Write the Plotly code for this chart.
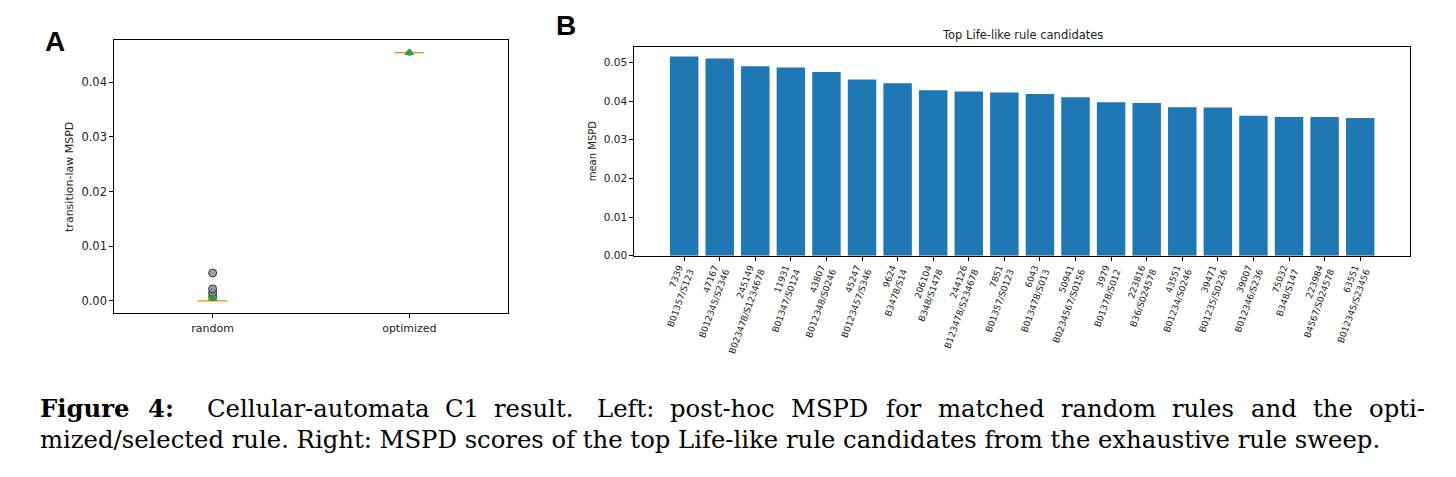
import numpy as np
import plotly.graph_objects as go

# ---------------- data ----------------
# Panel A: post-hoc transition-law MSPD
group_names = ["random", "optimized"]
random_values = [0.0, 0.0, 0.0, 0.0, 0.0, 0.0, 0.0, 0.0, 0.0, 0.0,
                 0.0, 0.0, 0.0, 0.0, 0.0, 0.0, 0.0008, 0.0015, 0.0022, 0.0051]
optimized_values = [0.0454]

# Panel B: top Life-like rule candidates
rule_ids = ["7339", "47167", "245149", "11931", "43807", "45247", "9624", "206104",
            "244126", "7851", "6043", "50941", "3979", "223816", "43551", "39471",
            "39007", "75032", "223984", "63551"]
rule_names = ["B01357/S123", "B012345/S2346", "B023478/S1234678", "B01347/S0124",
              "B012348/S0246", "B0123457/S346", "B3478/S14", "B348/S1478",
              "B123478/S234678", "B01357/S0123", "B013478/S013", "B0234567/S0156",
              "B01378/S012", "B36/S024578", "B01234/S0246", "B01235/S0236",
              "B012346/S236", "B348/S147", "B4567/S024578", "B012345/S23456"]
mean_mspd = [0.0515, 0.0510, 0.0490, 0.0487, 0.0475, 0.0456, 0.0446, 0.0428,
             0.0425, 0.0422, 0.0418, 0.0410, 0.0397, 0.0395, 0.0384, 0.0383,
             0.0362, 0.0359, 0.0359, 0.0356]

caption_line1 = ["Figure", "4:", "Cellular-automata", "C1", "result.", "Left:", "post-hoc",
                 "MSPD", "for", "matched", "random", "rules", "and", "the", "opti-"]
caption_line2 = ("mized/selected rule. Right: MSPD scores of the top Life-like rule "
                 "candidates from the exhaustive rule sweep.")

# ---------------- layout helpers ----------------
# the page body adds an 8px margin, so the figure is drawn offset by (8, 8)
OFF = 8
W, H = 1456 - OFF, 477 - OFF
def px(x):
    return (x - OFF) / W
def py(y):
    return 1 - (y - OFF) / H

BLUE = "#1f77b4"
ORANGE = "#ff7f0e"
GREEN = "#2ca02c"
FONT = "DejaVu Sans"
SERIF = "DejaVu Serif"
CAP_SIZE = 24.3

# approximate DejaVu Serif advance widths (em) used to justify caption line 1
REG_W = {"a": .596, "b": .640, "c": .560, "d": .640, "e": .592, "f": .370, "g": .640,
         "h": .644, "i": .320, "k": .610, "l": .320, "m": .948, "n": .644, "o": .602,
         "p": .640, "r": .478, "s": .513, "t": .402, "u": .644, "z": .525,
         "C": .715, "L": .637, "M": .995, "S": .685, "P": .733, "D": .830,
         "1": .636, "4": .636, ":": .337, ".": .318, "-": .338}
BOLD_W = {"F": .711, "i": .421, "g": .709, "u": .712, "r": .533, "e": .678,
          "4": .696, ":": .400}

def word_width(word, bold):
    table = BOLD_W if bold else REG_W
    return sum(table.get(ch, .6) for ch in word) * CAP_SIZE

LINE_LEFT, LINE_RIGHT = 38, 1423
widths1 = [word_width(w, i < 2) for i, w in enumerate(caption_line1)]
gap_weights = [1.0] * (len(caption_line1) - 1)
gap_weights[1] = 2.0   # wider space after "Figure 4:"
gap_weights[4] = 1.4   # sentence space after "result."
free = (LINE_RIGHT - LINE_LEFT) - sum(widths1)
unit_gap = free / sum(gap_weights)
line1_x = [LINE_LEFT]
for i in range(1, len(caption_line1)):
    line1_x.append(line1_x[-1] + widths1[i - 1] + unit_gap * gap_weights[i - 1])

fig = go.Figure()

# ---------------- panel A ----------------
fig.add_trace(go.Box(
    x0=1, y=random_values, width=0.15, boxpoints="outliers", jitter=0, pointpos=0,
    line=dict(color=ORANGE, width=1.2), fillcolor="rgba(0,0,0,0)", whiskerwidth=1,
    marker=dict(color="rgba(140,145,155,0.85)", size=8, line=dict(color="#333333", width=1)),
    xaxis="x", yaxis="y", showlegend=False, hoverinfo="skip"))
fig.add_trace(go.Box(
    x0=2, y=optimized_values, width=0.15, boxpoints=False,
    line=dict(color=ORANGE, width=1.2), fillcolor="rgba(0,0,0,0)",
    xaxis="x", yaxis="y", showlegend=False, hoverinfo="skip"))
fig.add_trace(go.Scatter(
    x=[2] * len(optimized_values), y=optimized_values, mode="markers",
    marker=dict(color=BLUE, size=6), xaxis="x", yaxis="y", showlegend=False))
fig.add_trace(go.Scatter(
    x=[1, 2], y=[float(np.mean(random_values)), float(np.mean(optimized_values))],
    mode="markers", marker=dict(symbol="triangle-up", color=GREEN, size=9),
    xaxis="x", yaxis="y", showlegend=False))

# ---------------- panel B ----------------
tick_text = [f"{i}<br>{r}" for i, r in zip(rule_ids, rule_names)]
fig.add_trace(go.Bar(
    x=tick_text, y=mean_mspd, marker=dict(color=BLUE, line=dict(width=0)),
    xaxis="x2", yaxis="y2", showlegend=False))

axis_common = dict(showline=True, mirror=True, linecolor="black", linewidth=1,
                   ticks="outside", ticklen=4, tickcolor="black", showgrid=False,
                   zeroline=False)

fig.update_layout(
    width=W, height=H, margin=dict(l=0, r=0, t=0, b=0),
    paper_bgcolor="white", plot_bgcolor="white", bargap=0.2,
    xaxis=dict(domain=[px(114.3), px(507.7)], range=[0.5, 2.5],
               tickvals=[1, 2], ticktext=group_names, anchor="y",
               tickfont=dict(family=FONT, size=11, color="#222"), **axis_common),
    yaxis=dict(domain=[py(317.3), py(40.7)], range=[-0.00227, 0.04767],
               tickvals=[0, 0.01, 0.02, 0.03, 0.04], tickformat=".2f", anchor="x",
               tickfont=dict(family=FONT, size=11.5, color="#222"),
               title=dict(text="transition-law MSPD", standoff=5,
                          font=dict(family=FONT, size=11, color="#222")),
               **axis_common),
    xaxis2=dict(domain=[px(634.3), px(1410)], range=[-1.4, 20.4], type="category",
                anchor="y2", tickangle=-70,
                tickfont=dict(family=FONT, size=9, color="#222"), **axis_common),
    yaxis2=dict(domain=[py(259), py(47)], range=[0, 0.0541],
                tickvals=[0, 0.01, 0.02, 0.03, 0.04, 0.05], tickformat=".2f", anchor="x2",
                tickfont=dict(family=FONT, size=10.5, color="#222"),
                title=dict(text="mean MSPD", standoff=5,
                           font=dict(family=FONT, size=10, color="#222")),
                **axis_common),
)

annotations = [
    dict(text="<b>A</b>", x=px(54.5), y=py(42), xref="paper", yref="paper",
         xanchor="center", yanchor="middle", showarrow=False,
         font=dict(family="Liberation Sans", size=28, color="black")),
    dict(text="<b>B</b>", x=px(566), y=py(26), xref="paper", yref="paper",
         xanchor="center", yanchor="middle", showarrow=False,
         font=dict(family="Liberation Sans", size=28, color="black")),
    dict(text="Top Life-like rule candidates", x=px(1022), y=py(35), xref="paper", yref="paper",
         xanchor="center", yanchor="middle", showarrow=False,
         font=dict(family=FONT, size=11.5, color="#222")),
]

for i, (w, x) in enumerate(zip(caption_line1, line1_x)):
    t = f"<b>{w}</b>" if i < 2 else w
    annotations.append(dict(text=t, x=px(x), y=py(414), xref="paper", yref="paper",
                            xanchor="left", yanchor="middle", showarrow=False,
                            font=dict(family=SERIF, size=CAP_SIZE, color="black")))
annotations.append(dict(text=caption_line2, x=px(LINE_LEFT), y=py(445), xref="paper", yref="paper",
                        xanchor="left", yanchor="middle", showarrow=False,
                        font=dict(family=SERIF, size=CAP_SIZE, color="black")))
fig.update_layout(annotations=annotations)

fig.write_html("out.html")
